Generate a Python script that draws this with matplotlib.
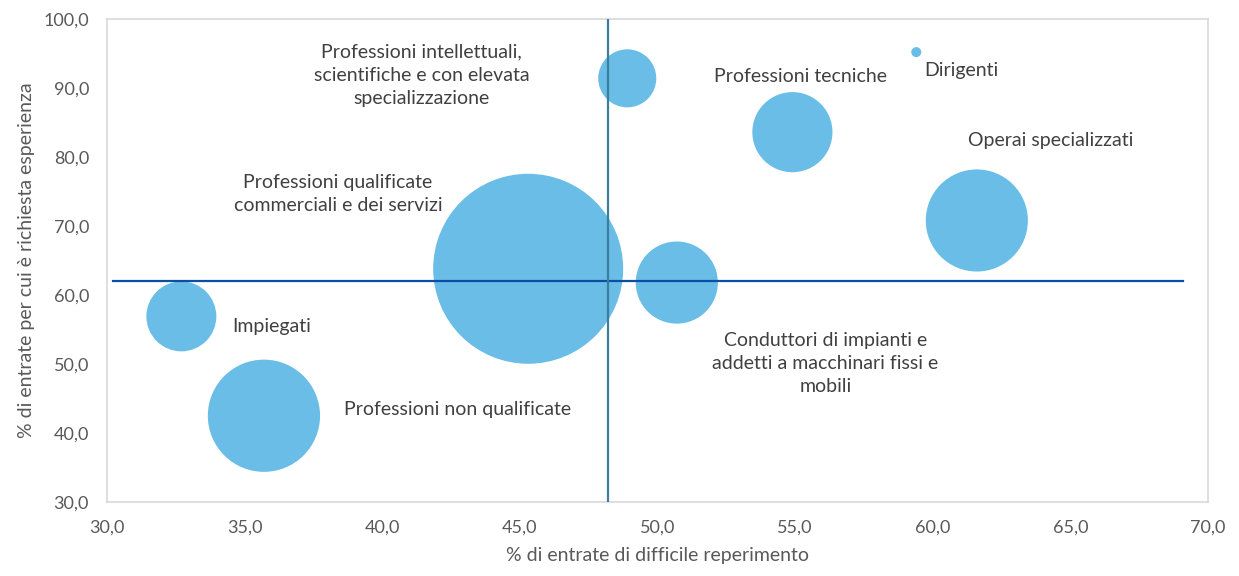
import matplotlib
matplotlib.use("Agg")
import matplotlib.pyplot as plt
from matplotlib.ticker import FuncFormatter, MultipleLocator

# Professional groups: % hard to find (x), % experience required (y), entries (bubble size)
GROUPS = [
    "Dirigenti",
    "Professioni intellettuali,\nscientifiche e con elevata\nspecializzazione",
    "Professioni tecniche",
    "Impiegati",
    "Professioni qualificate\ncommerciali e dei servizi",
    "Operai specializzati",
    "Conduttori di impianti e\naddetti a macchinari fissi e\nmobili",
    "Professioni non qualificate",
]
DIFFICILE = [59.4, 48.9, 54.9, 32.7, 45.3, 61.6, 50.7, 35.7]
ESPERIENZA = [95.2, 91.4, 83.6, 56.9, 63.8, 70.8, 61.8, 42.5]
ENTRATE = [2.5, 84, 160, 122, 900, 260, 168, 314]  # relative volume of entries

MEDIA_X = 48.2
MEDIA_Y = 62.1

# label offsets from the bubble centre, in points, and horizontal alignment
LABEL_OFFSETS = [
    (5.8, -13, "left"),
    (-148, 2, "center"),
    (5.8, 40, "center"),
    (65, -7.2, "center"),
    (-137, 54, "center"),
    (53.3, 57.6, "center"),
    (107, -58.3, "center"),
    (139.7, 4.3, "center"),
]

BUBBLE = "#69BDE6"
TEXT = "#404040"
TICK = "#595959"

plt.rcParams["font.family"] = "Lato"

fig = plt.figure(figsize=(12.39, 5.76), dpi=100)
ax = fig.add_axes([0.0864, 0.1285, 0.8886, 0.8385])

# size scale: largest bubble ~190 px across
scale = (190 * 0.72) ** 2 / max(ENTRATE)
ax.scatter(DIFFICILE, ESPERIENZA, s=[v * scale for v in ENTRATE],
           color=BUBBLE, edgecolor="none", zorder=2)

ax.plot([30.2, 69.1], [MEDIA_Y, MEDIA_Y], color="#0B4EA2", linewidth=1.6, zorder=3)
ax.plot([MEDIA_X, MEDIA_X], [30, 100], color="#3A7F9F", linewidth=1.6, zorder=3)

for name, x, y, (dx, dy, ha) in zip(GROUPS, DIFFICILE, ESPERIENZA, LABEL_OFFSETS):
    ax.annotate(name, (x, y), xytext=(dx, dy), textcoords="offset points",
                ha=ha, va="center", fontsize=14, color=TEXT,
                linespacing=1.45, zorder=4)

ax.set_xlim(30, 70)
ax.set_ylim(30, 100)
ax.xaxis.set_major_locator(MultipleLocator(5))
ax.yaxis.set_major_locator(MultipleLocator(10))
fmt = FuncFormatter(lambda v, p: f"{v:.1f}".replace(".", ","))
ax.xaxis.set_major_formatter(fmt)
ax.yaxis.set_major_formatter(fmt)
ax.tick_params(length=0, labelsize=13, labelcolor=TICK, pad=13)

for sp in ax.spines.values():
    sp.set_color("#D9D9D9")
    sp.set_linewidth(1.2)

ax.set_xlabel("% di entrate di difficile reperimento", fontsize=14, color=TICK, labelpad=8)
ax.set_ylabel("% di entrate per cui è richiesta esperienza", fontsize=14, color=TICK, labelpad=6)

fig.savefig("out.png", dpi=100)
